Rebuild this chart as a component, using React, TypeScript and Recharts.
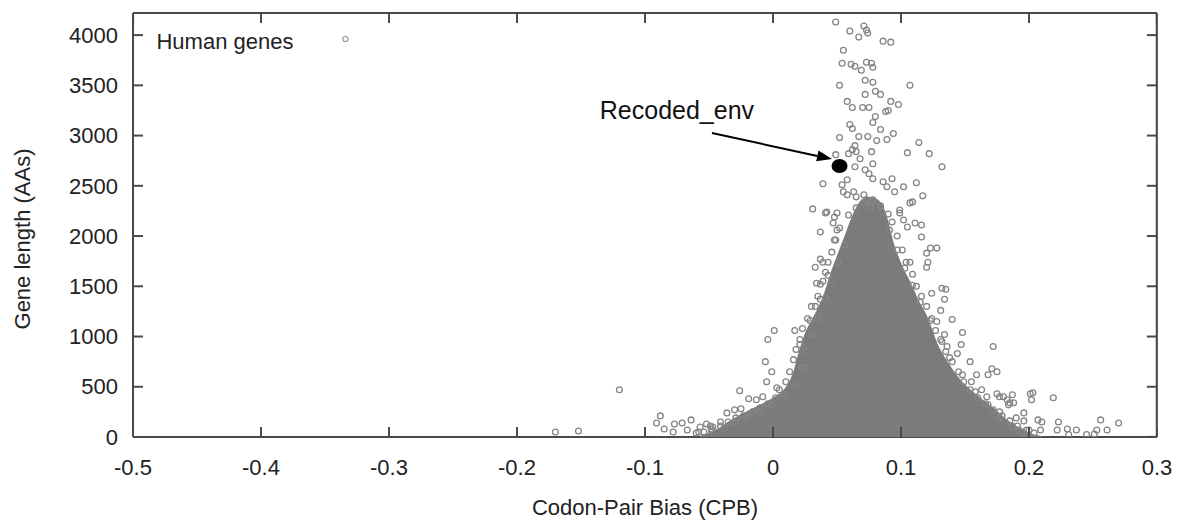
import React from 'react';
import { ComposedChart, XAxis, YAxis, Scatter, ReferenceLine, Label, Curve } from 'recharts';

const FONT = '"Liberation Sans", Arial, Helvetica, sans-serif';
const AXIS = '#4a4a4a';
const TEXT = '#222';
const POINT = '#858585';
const CORE = '#7b7b7b';

const xTicks = [-0.5, -0.4, -0.3, -0.2, -0.1, 0, 0.1, 0.2, 0.3];
const yTicks = [0, 500, 1000, 1500, 2000, 2500, 3000, 3500, 4000];
const xDomain: [number, number] = [-0.5, 0.3];
const yDomain: [number, number] = [0, 4220];
// Frame edges (top and right), just inside the plotted range
const frameTop = 4219;
const frameRight = 0.2999;
const frameLeft = -0.4999;

// Upper boundary of the saturated (overlapping) part of the gene cloud: [CPB, length]
const denseCore: [number, number][] = [
  [-0.057, 0], [-0.045, 60], [-0.03, 180], [-0.015, 280], [0.0, 380], [0.01, 480],
  [0.016, 620], [0.021, 850], [0.026, 1040], [0.035, 1260], [0.041, 1440], [0.046, 1640],
  [0.051, 1810], [0.057, 2010], [0.063, 2210], [0.068, 2330], [0.074, 2380], [0.081, 2360],
  [0.087, 2240], [0.094, 1910], [0.101, 1680], [0.107, 1530], [0.113, 1360], [0.12, 1190],
  [0.128, 920], [0.137, 720], [0.146, 560], [0.158, 420], [0.172, 280], [0.181, 180],
  [0.191, 90], [0.2, 30], [0.21, 0],
];

// Individually visible genes: [CPB, length]
const upperTail: [number, number][] = [
  [0.049, 4130], [0.071, 4090], [0.073, 4050], [0.074, 4020], [0.06, 4040], [0.067, 3980],
  [0.086, 3940], [0.092, 3930], [0.055, 3850], [0.054, 3720], [0.061, 3710], [0.064, 3690],
  [0.073, 3730], [0.077, 3720], [0.078, 3680], [0.069, 3650], [0.052, 3500], [0.072, 3550],
  [0.078, 3530], [0.107, 3500], [0.072, 3410], [0.08, 3440], [0.084, 3410], [0.058, 3340],
  [0.062, 3280], [0.07, 3280], [0.075, 3280], [0.088, 3240], [0.09, 3250], [0.092, 3340],
  [0.098, 3310], [0.08, 3190], [0.078, 3130], [0.06, 3110], [0.062, 3070], [0.084, 3060],
  [0.094, 3020], [0.052, 2980], [0.067, 2990], [0.074, 2990], [0.081, 2950], [0.089, 2960],
  [0.064, 2900], [0.062, 2860], [0.065, 2840], [0.077, 2840], [0.114, 2930], [0.049, 2810],
  [0.059, 2820], [0.068, 2770], [0.078, 2720], [0.105, 2830], [0.122, 2820], [0.132, 2690],
  [0.064, 2690], [0.072, 2660], [0.075, 2620], [0.078, 2570], [0.039, 2520], [0.054, 2510],
  [0.058, 2560], [0.086, 2540], [0.093, 2570], [0.089, 2490], [0.095, 2440], [0.102, 2490],
  [0.112, 2530], [0.117, 2400], [0.107, 2330], [0.109, 2340], [0.055, 2440], [0.058, 2410],
  [0.063, 2440], [0.065, 2390], [0.071, 2410], [0.073, 2360], [0.078, 2360], [0.076, 2290],
  [0.084, 2290], [0.031, 2270], [0.042, 2240], [0.099, 2260],
];

const leftFlank: [number, number][] = [
  [0.037, 2040], [0.041, 2230], [0.048, 2190], [0.047, 2130], [0.05, 2060], [0.048, 1960],
  [0.037, 1770], [0.033, 1690], [0.039, 1740], [0.034, 1530], [0.039, 1550], [0.043, 1610],
  [0.037, 1370], [0.033, 1300], [0.001, 1060], [-0.004, 970], [0.017, 1060], [-0.006, 750],
  [-0.001, 650], [-0.005, 550], [0.003, 490], [-0.026, 460], [-0.019, 380], [-0.088, 210],
  [-0.091, 140], [-0.085, 80], [-0.077, 130], [-0.071, 140], [-0.064, 170], [-0.078, 50],
  [-0.067, 70], [-0.057, 100], [-0.049, 110], [-0.041, 150], [-0.036, 240], [-0.03, 270],
  [-0.013, 370], [-0.008, 400], [-0.152, 60], [-0.17, 50], [-0.12, 470], [-0.058, 50],
  [-0.047, 100], [-0.052, 130], [-0.025, 280], [0.05, 2230],
];

const rightFlank: [number, number][] = [
  [0.099, 2230], [0.102, 2160], [0.111, 2130], [0.116, 2110], [0.105, 2090], [0.116, 1990],
  [0.123, 1880], [0.128, 1880], [0.12, 1830], [0.107, 1740], [0.121, 1740], [0.12, 1690],
  [0.132, 1480], [0.135, 1470], [0.134, 1370], [0.124, 1430], [0.131, 1260], [0.14, 1170],
  [0.128, 1150], [0.134, 1020], [0.148, 1040], [0.147, 920], [0.136, 900], [0.144, 830],
  [0.154, 750], [0.172, 900], [0.171, 680], [0.175, 650], [0.168, 620], [0.159, 620],
  [0.155, 550], [0.163, 470], [0.167, 400], [0.175, 430], [0.18, 400], [0.183, 370],
  [0.187, 420], [0.185, 340], [0.201, 430], [0.203, 440], [0.202, 370], [0.219, 390],
  [0.196, 240], [0.19, 190], [0.207, 170], [0.21, 150], [0.223, 150], [0.2, 70],
  [0.209, 70], [0.222, 70], [0.23, 80], [0.237, 70], [0.253, 70], [0.256, 170],
  [0.27, 140], [0.261, 70], [0.196, 160], [0.187, 100], [0.192, 70], [0.184, 320],
  [0.177, 250], [0.231, 25], [0.245, 25], [0.251, 30], [0.188, 340], [0.177, 400],
];

const leftRim: [number, number][] = [
  [0.056, 1910], [0.051, 1740], [0.046, 1560], [0.041, 1380], [0.035, 1180], [0.031, 1020],
  [0.026, 850], [0.023, 690], [0.017, 520], [0.009, 420], [-0.001, 320], [-0.01, 250],
  [-0.02, 190], [-0.029, 150], [-0.038, 90], [-0.048, 60], [0.021, 920], [0.029, 1160],
  [0.052, 2080], [0.049, 1960], [0.046, 1840], [0.043, 1740], [0.041, 1640], [0.037, 1520],
  [0.035, 1400], [0.03, 1300], [0.027, 1180], [0.023, 1080], [0.021, 970], [0.018, 870],
  [0.016, 770], [0.013, 650], [0.01, 550], [0.005, 470], [0.002, 390], [-0.004, 330],
  [-0.01, 290], [-0.016, 250], [-0.023, 210], [-0.029, 190], [-0.035, 150], [-0.041, 110],
  [-0.048, 80], [-0.054, 50], [-0.06, 40],
];

const rightRim: [number, number][] = [
  [0.091, 2060], [0.097, 1860], [0.103, 1680], [0.109, 1510], [0.115, 1340], [0.123, 1160],
  [0.131, 970], [0.138, 790], [0.148, 620], [0.158, 450], [0.168, 320], [0.177, 190],
  [0.187, 110], [0.195, 50],
  [0.093, 2140], [0.097, 2000], [0.101, 1860], [0.104, 1740], [0.109, 1620], [0.112, 1500],
  [0.116, 1400], [0.12, 1300], [0.124, 1180], [0.127, 1060], [0.132, 950], [0.135, 850],
  [0.14, 750], [0.145, 650], [0.149, 550], [0.154, 470], [0.16, 390], [0.166, 330],
  [0.172, 270], [0.179, 210], [0.185, 160], [0.191, 110], [0.198, 70], [0.204, 40],
];

const coreTop: [number, number][] = [
  [0.059, 2210], [0.065, 2280], [0.071, 2330], [0.077, 2340], [0.084, 2300], [0.09, 2220],
];

const recodedEnv: [number, number][] = [[0.052, 2697]];
const legendSample: [number, number][] = [[-0.334, 3960]];
const arrowFrom: [number, number] = [-0.0477, 3025];
const arrowTo: [number, number] = [0.0461, 2766];

const toRows = (arr: [number, number][]) => arr.map(([cpb, len]) => ({ cpb, len }));
const coreRows = toRows(denseCore);
const geneRows = toRows([...upperTail, ...leftFlank, ...rightFlank, ...leftRim, ...rightRim, ...coreTop]);
const recodedRows = toRows(recodedEnv);
const legendRows = toRows(legendSample);
const frameRows = [
  { cpb: frameLeft, len: frameTop },
  { cpb: frameRight, len: frameTop },
  { cpb: frameRight, len: 1 },
];
const topTickRows = xTicks.map((t) => ({ cpb: Math.min(Math.max(t, frameLeft), frameRight), len: frameTop }));
const rightTickRows = yTicks.map((t) => ({ cpb: frameRight, len: Math.max(t, 1) }));

const fmt = (v: number) => (v === 0 ? '0' : v.toFixed(1));

const BottomTick = (p: any) => (
  <g>
    <line x1={p.x} y1={p.y} x2={p.x} y2={p.y - 10} stroke={AXIS} strokeWidth={2} />
    <text x={p.x} y={p.y + 30} dy="0.35em" textAnchor="middle" fontFamily={FONT} fontSize={22} fill={TEXT}>
      {fmt(p.payload.value)}
    </text>
  </g>
);
const LeftTick = (p: any) => (
  <g>
    <line x1={p.x} y1={p.y} x2={p.x + 10} y2={p.y} stroke={AXIS} strokeWidth={2} />
    <text x={p.x - 15} y={p.y} dy="0.35em" textAnchor="end" fontFamily={FONT} fontSize={22} fill={TEXT}>
      {p.payload.value}
    </text>
  </g>
);

const NoShape = () => <g />;
const TopTickShape = (p: any) => (
  <line x1={p.cx} y1={p.cy} x2={p.cx} y2={p.cy + 10} stroke={AXIS} strokeWidth={2} />
);
const RightTickShape = (p: any) => (
  <line x1={p.cx} y1={p.cy} x2={p.cx - 10} y2={p.cy} stroke={AXIS} strokeWidth={2} />
);
const FrameLine = (lp: any) => (
  <Curve points={lp.points} type="linear" fill="none" stroke={AXIS} strokeWidth={2} />
);
const CoreFill = (lp: any) => (
  <Curve points={lp.points} type="monotoneX" fill={CORE} fillOpacity={1} stroke={CORE} strokeWidth={2} />
);
const GeneShape = (p: any) => (
  <circle cx={p.cx} cy={p.cy} r={2.9} fill="none" stroke={POINT} strokeWidth={1.3} />
);
const RecodedShape = (p: any) => <ellipse cx={p.cx} cy={p.cy} rx={8} ry={7} fill="#000" />;
const LegendShape = (p: any) => (
  <g>
    <text x={p.cx - 189} y={p.cy + 10} fontFamily={FONT} fontSize={22} fill={TEXT}>
      Human genes
    </text>
    <circle cx={p.cx} cy={p.cy} r={2.6} fill="none" stroke="#999" strokeWidth={1.2} />
  </g>
);

const ArrowShape = (p: any) => {
  const { x1, y1, x2, y2 } = p;
  const ang = Math.atan2(y2 - y1, x2 - x1);
  const L = 15;
  const W = 5.5;
  const bx = x2 - L * Math.cos(ang);
  const by = y2 - L * Math.sin(ang);
  const nx = -Math.sin(ang) * W;
  const ny = Math.cos(ang) * W;
  return (
    <g>
      <line x1={x1} y1={y1} x2={bx} y2={by} stroke="#000" strokeWidth={2} />
      <polygon points={`${x2},${y2} ${bx + nx},${by + ny} ${bx - nx},${by - ny}`} fill="#000" />
      <text x={x1 - 35} y={y1 - 14} textAnchor="middle" fontFamily={FONT} fontSize={25} fill="#111">
        Recoded_env
      </text>
    </g>
  );
};

export default function App() {
  return (
    <div style={{ position: 'absolute', left: 0, top: 0, width: 1189, height: 527, background: '#fff' }}>
      <ComposedChart width={1189} height={527} margin={{ top: 13, right: 32, bottom: 30, left: 0 }}>
        <XAxis
          dataKey="cpb"
          type="number"
          domain={xDomain}
          ticks={xTicks}
          interval={0}
          allowDataOverflow
          height={60}
          tickSize={0}
          tickMargin={0}
          tickLine={false}
          axisLine={{ stroke: AXIS, strokeWidth: 2 }}
          tick={BottomTick}
        >
          <Label value="Codon-Pair Bias (CPB)" position="center" dy={40} fontFamily={FONT} fontSize={22} fill={TEXT} />
        </XAxis>
        <YAxis
          dataKey="len"
          type="number"
          domain={yDomain}
          ticks={yTicks}
          interval={0}
          allowDataOverflow
          width={133}
          tickSize={0}
          tickMargin={0}
          tickLine={false}
          axisLine={{ stroke: AXIS, strokeWidth: 2 }}
          tick={LeftTick}
        >
          <Label value="Gene length (AAs)" position="center" angle={-90} dx={-44} dy={14} fontFamily={FONT} fontSize={22} fill={TEXT} />
        </YAxis>
        <ReferenceLine y={frameTop} stroke={AXIS} strokeWidth={2} />
        <ReferenceLine x={frameRight} stroke={AXIS} strokeWidth={2} />
        <Scatter
          name="frame"
          data={frameRows}
          dataKey="len"
          shape={NoShape}
          line={FrameLine}
          lineType="joint"
          isAnimationActive={false}
        />
        <Scatter name="topTicks" data={topTickRows} dataKey="len" shape={TopTickShape} isAnimationActive={false} />
        <Scatter name="rightTicks" data={rightTickRows} dataKey="len" shape={RightTickShape} isAnimationActive={false} />
        <Scatter
          name="core"
          data={coreRows}
          dataKey="len"
          shape={NoShape}
          line={CoreFill}
          lineType="joint"
          isAnimationActive={false}
        />
        <Scatter name="Human genes" data={geneRows} dataKey="len" shape={GeneShape} isAnimationActive={false} />
        <Scatter name="Recoded_env" data={recodedRows} dataKey="len" shape={RecodedShape} isAnimationActive={false} />
        <Scatter name="legend" data={legendRows} dataKey="len" shape={LegendShape} isAnimationActive={false} />
        <ReferenceLine
          segment={[{ x: arrowFrom[0], y: arrowFrom[1] }, { x: arrowTo[0], y: arrowTo[1] }]}
          shape={ArrowShape}
        />
      </ComposedChart>
    </div>
  );
}
